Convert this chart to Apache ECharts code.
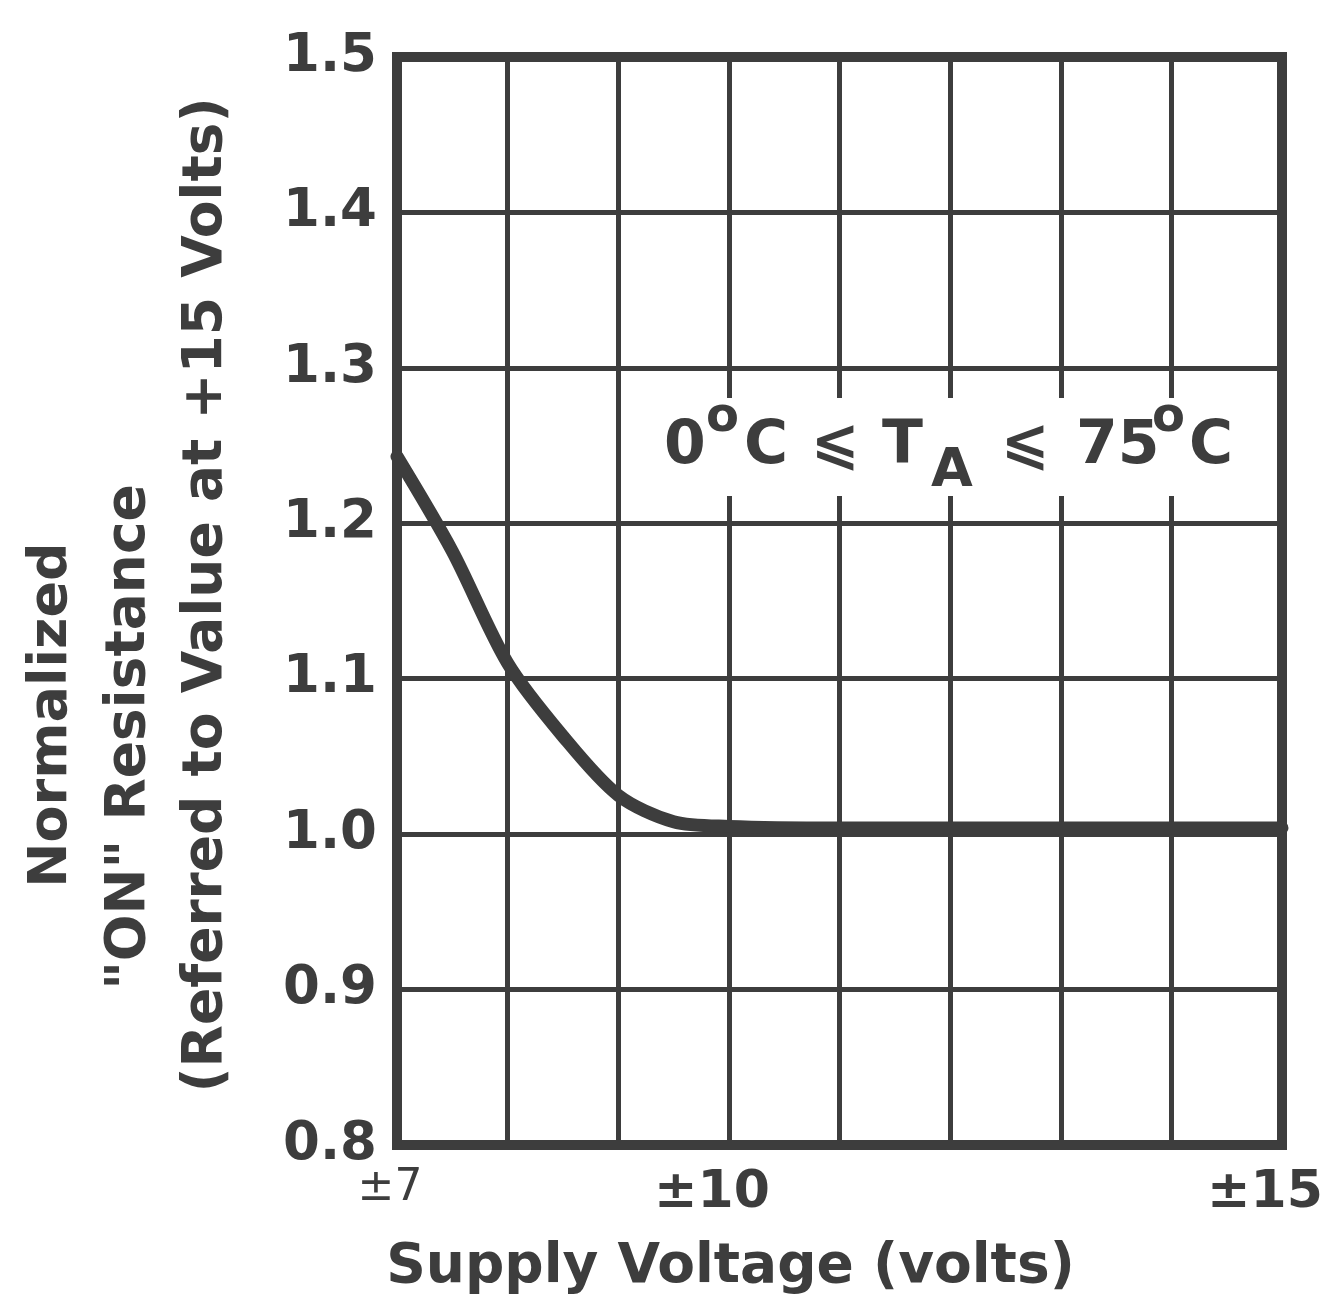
<!DOCTYPE html>
<html>
<head>
<meta charset="utf-8">
<script src="https://cdn.jsdelivr.net/npm/echarts@6/dist/echarts.min.js"></script>
<style>
  html, body { margin: 0; padding: 0; background: #fff; }
  #chart { width: 1327px; height: 1295px; }
</style>
</head>
<body>
<div id="chart"></div>
<script>
// supply voltage (±V) vs normalized ON resistance
const voltage = [7, 7.5, 8, 8.5, 9, 9.5, 10, 11, 12, 13, 14, 15];
const ron = [1.243, 1.182, 1.11, 1.063, 1.025, 1.008, 1.005, 1.004, 1.004, 1.004, 1.004, 1.004];

const xLabels = { 7: '±7', 10: '±10', 15: '±15' };
const yTicks = ['0.8', '0.9', '1.0', '1.1', '1.2', '1.3', '1.4', '1.5'];

const ink = '#3d3d3d';
const fontFam = '"DejaVu Sans", sans-serif';

const chart = echarts.init(document.getElementById('chart'));

// rich text style for the temperature range note
const noteTok = (size, width, pad) => ({
  font: 'bold ' + size + 'px ' + fontFam,
  fill: ink,
  width: width,
  align: 'left',
  lineHeight: 98,
  verticalAlign: 'middle',
  padding: pad || [0, 0, 0, 0]
});

chart.setOption({
  backgroundColor: '#fff',
  animation: false,
  grid: {
    left: 397,
    right: 45,
    top: 57,
    bottom: 150,
    outerBoundsMode: 'none',
    show: true,
    borderColor: ink,
    borderWidth: 10,
    z: 5
  },
  xAxis: {
    type: 'value',
    min: 7,
    max: 15,
    interval: 1,
    axisLine: { show: false },
    axisTick: { show: false },
    splitLine: { show: true, lineStyle: { color: ink, width: 5 } },
    axisLabel: {
      margin: 22,
      color: ink,
      fontFamily: fontFam,
      fontSize: 50,
      formatter: v => {
        const t = xLabels[v];
        if (!t) return '';
        return v === 7 ? '{s|' + t + '}' : '{b|' + t + '}';
      },
      rich: {
        s: { fontSize: 44, fontFamily: fontFam, color: ink, padding: [0, 14, 0, 0] },
        b: { fontSize: 52, fontWeight: 'bold', fontFamily: fontFam, color: ink, padding: [0, 34, 0, 0] }
      }
    },
    name: 'Supply Voltage (volts)',
    nameLocation: 'middle',
    nameGap: 95,
    nameTextStyle: {
      color: ink,
      fontFamily: fontFam,
      fontSize: 55,
      fontWeight: 'bold',
      padding: [0, 218, 0, 0]
    }
  },
  yAxis: {
    type: 'value',
    min: 0.8,
    max: 1.5,
    interval: 0.1,
    axisLine: { show: false },
    axisTick: { show: false },
    splitLine: { show: true, lineStyle: { color: ink, width: 5 } },
    axisLabel: {
      margin: 20,
      color: ink,
      fontFamily: fontFam,
      fontSize: 53,
      fontWeight: 'bold',
      formatter: v => yTicks[Math.round((v - 0.8) * 10)] || ''
    }
  },
  series: [{
    type: 'line',
    data: voltage.map((v, i) => [v, ron[i]]),
    smooth: 0.3,
    symbol: 'none',
    z: 10,
    lineStyle: { color: ink, width: 13, cap: 'round' }
  }],
  graphic: [
    {
      type: 'text',
      z: 100,
      x: 52, y: 715,
      rotation: Math.PI / 2,
      style: {
        text: 'Normalized',
        fill: ink,
        font: 'bold 54px ' + fontFam,
        textAlign: 'center',
        textVerticalAlign: 'middle'
      }
    },
    {
      type: 'text',
      z: 100,
      x: 130, y: 737,
      rotation: Math.PI / 2,
      style: {
        text: '"ON" Resistance',
        fill: ink,
        font: 'bold 55px ' + fontFam,
        textAlign: 'center',
        textVerticalAlign: 'middle'
      }
    },
    {
      type: 'text',
      z: 100,
      x: 207, y: 595,
      rotation: Math.PI / 2,
      style: {
        text: '(Referred to Value at +15 Volts)',
        fill: ink,
        font: 'bold 55px ' + fontFam,
        textAlign: 'center',
        textVerticalAlign: 'middle'
      }
    },
    {
      type: 'text',
      z: 100,
      x: 650, y: 398,
      style: {
        text: '{a|0}{o|o}{c|C}{le|⩽}{t|T}{sub|A}{le2|⩽}{n|75}{o2|o}{c2|C}',
        backgroundColor: '#fff',
        padding: [0, 14, 0, 14],
        rich: {
          a: noteTok(60, 42),
          o: noteTok(48, 38, [0, 0, 56, 0]),
          c: noteTok(60, 67),
          le: noteTok(58, 71),
          t: noteTok(60, 49),
          sub: noteTok(54, 70, [50, 0, 0, 0]),
          le2: noteTok(58, 75),
          n: noteTok(60, 76),
          o2: noteTok(48, 37, [0, 0, 56, 0]),
          c2: noteTok(60, 46)
        }
      }
    }
  ]
});
</script>
</body>
</html>
